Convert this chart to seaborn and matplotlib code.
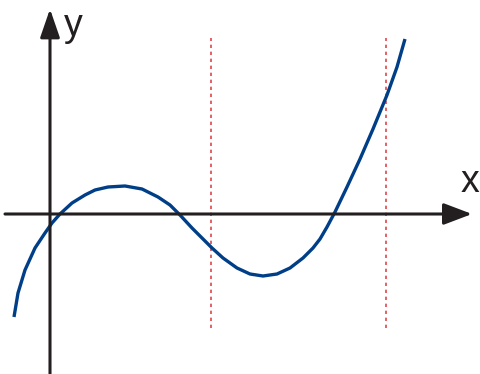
import pandas as pd
import matplotlib.pyplot as plt
import seaborn as sns

# Curve points (origin at the axes crossing, y upwards)
curve_x = [-36, -32, -25, -15, -5, 2, 10, 22, 35, 45, 58, 75, 92, 108, 120,
           130, 142, 152, 162, 173, 187, 200, 213, 227, 240, 253, 263, 270,
           277, 285, 297, 310, 323, 337, 347, 355]
curve_y = [-103, -79, -56, -34, -19, -9, 0, 11, 19, 24, 27, 28, 25, 17, 9,
           -1, -14, -24, -34, -44, -54, -60, -62, -60, -54, -44, -34, -25,
           -13, 2, 27, 55, 85, 119, 147, 175]

# Vertical dotted markers
marker_x = [161, 336]
marker_top = 176
marker_bottom = -114

axis_labels = ['x', 'y']

sns.set_theme(style='white')
plt.rcParams['font.family'] = ['Liberation Sans', 'DejaVu Sans']

fig = plt.figure(figsize=(4.8, 3.74), dpi=100)
ax = fig.add_axes([0, 0, 1, 1])
ax.set_xlim(-50, 430)
ax.set_ylim(-160, 214)

ink = '#231f20'
# axes with arrow heads
ax.annotate('', xy=(422, 0), xytext=(-45, 0),
            arrowprops=dict(arrowstyle='-|>,head_length=1.45,head_width=0.55',
                            color=ink, lw=2.2, shrinkA=0, shrinkB=0))
ax.annotate('', xy=(0, 205), xytext=(0, -165),
            arrowprops=dict(arrowstyle='-|>,head_length=1.45,head_width=0.5',
                            color=ink, lw=2.2, shrinkA=0, shrinkB=0))

for mx in marker_x:
    ax.plot([mx, mx], [marker_bottom, marker_top], color='#e0464a',
            lw=1.2, linestyle=(0, (2, 2.2)))

df = pd.DataFrame({'x': curve_x, 'y': curve_y})
sns.lineplot(data=df, x='x', y='y', ax=ax, color='#003f87', lw=2.4,
             sort=False, estimator=None, solid_capstyle='butt',
             solid_joinstyle='round')
ax.axis('off')

ax.text(420, 22, axis_labels[0], fontsize=27, color=ink, ha='center',
        va='baseline')
ax.text(14, 178, axis_labels[1], fontsize=27, color=ink, ha='left',
        va='baseline')

fig.savefig('out.png', dpi=100)
